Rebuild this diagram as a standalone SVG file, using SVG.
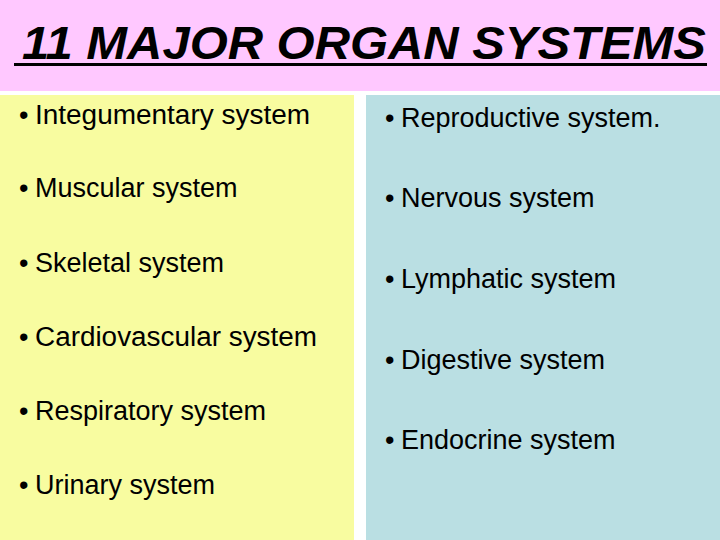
<svg xmlns="http://www.w3.org/2000/svg" width="720" height="540" viewBox="0 0 720 540">
<style>
.t{font-family:"Liberation Sans",Arial,sans-serif;font-size:27px;fill:#000}
</style>
<rect width="720" height="540" fill="#fff"/>
<rect x="0" y="0" width="720" height="91" fill="#ffc8ff"/>
<rect x="0" y="95" width="354" height="445" fill="#f8fca0"/>
<rect x="366" y="95" width="354" height="445" fill="#badfe3"/>
<g id="title">
<text x="22" y="59" textLength="684" lengthAdjust="spacingAndGlyphs" style="font-family:'Liberation Sans',Arial,sans-serif;font-size:46px;font-weight:bold;font-style:italic">11 MAJOR ORGAN SYSTEMS</text>
<rect x="14" y="63" width="693" height="3" fill="#000"/>
</g>
<g id="left" class="t">
<text x="19" y="124">•</text><text x="35" y="124" textLength="275" lengthAdjust="spacingAndGlyphs">Integumentary system</text>
<text x="19" y="197">•</text><text x="35" y="197">Muscular system</text>
<text x="19" y="272">•</text><text x="35" y="272">Skeletal system</text>
<text x="19" y="346">•</text><text x="35" y="346" textLength="282" lengthAdjust="spacingAndGlyphs">Cardiovascular system</text>
<text x="19" y="420">•</text><text x="35" y="420">Respiratory system</text>
<text x="19" y="494">•</text><text x="35" y="494">Urinary system</text>
</g>
<g id="right" class="t">
<text x="385" y="127">•</text><text x="401" y="127">Reproductive system.</text>
<text x="385" y="207">•</text><text x="401" y="207">Nervous system</text>
<text x="385" y="288">•</text><text x="401" y="288">Lymphatic system</text>
<text x="385" y="369">•</text><text x="401" y="369">Digestive system</text>
<text x="385" y="449">•</text><text x="401" y="449">Endocrine system</text>
</g>
</svg>
